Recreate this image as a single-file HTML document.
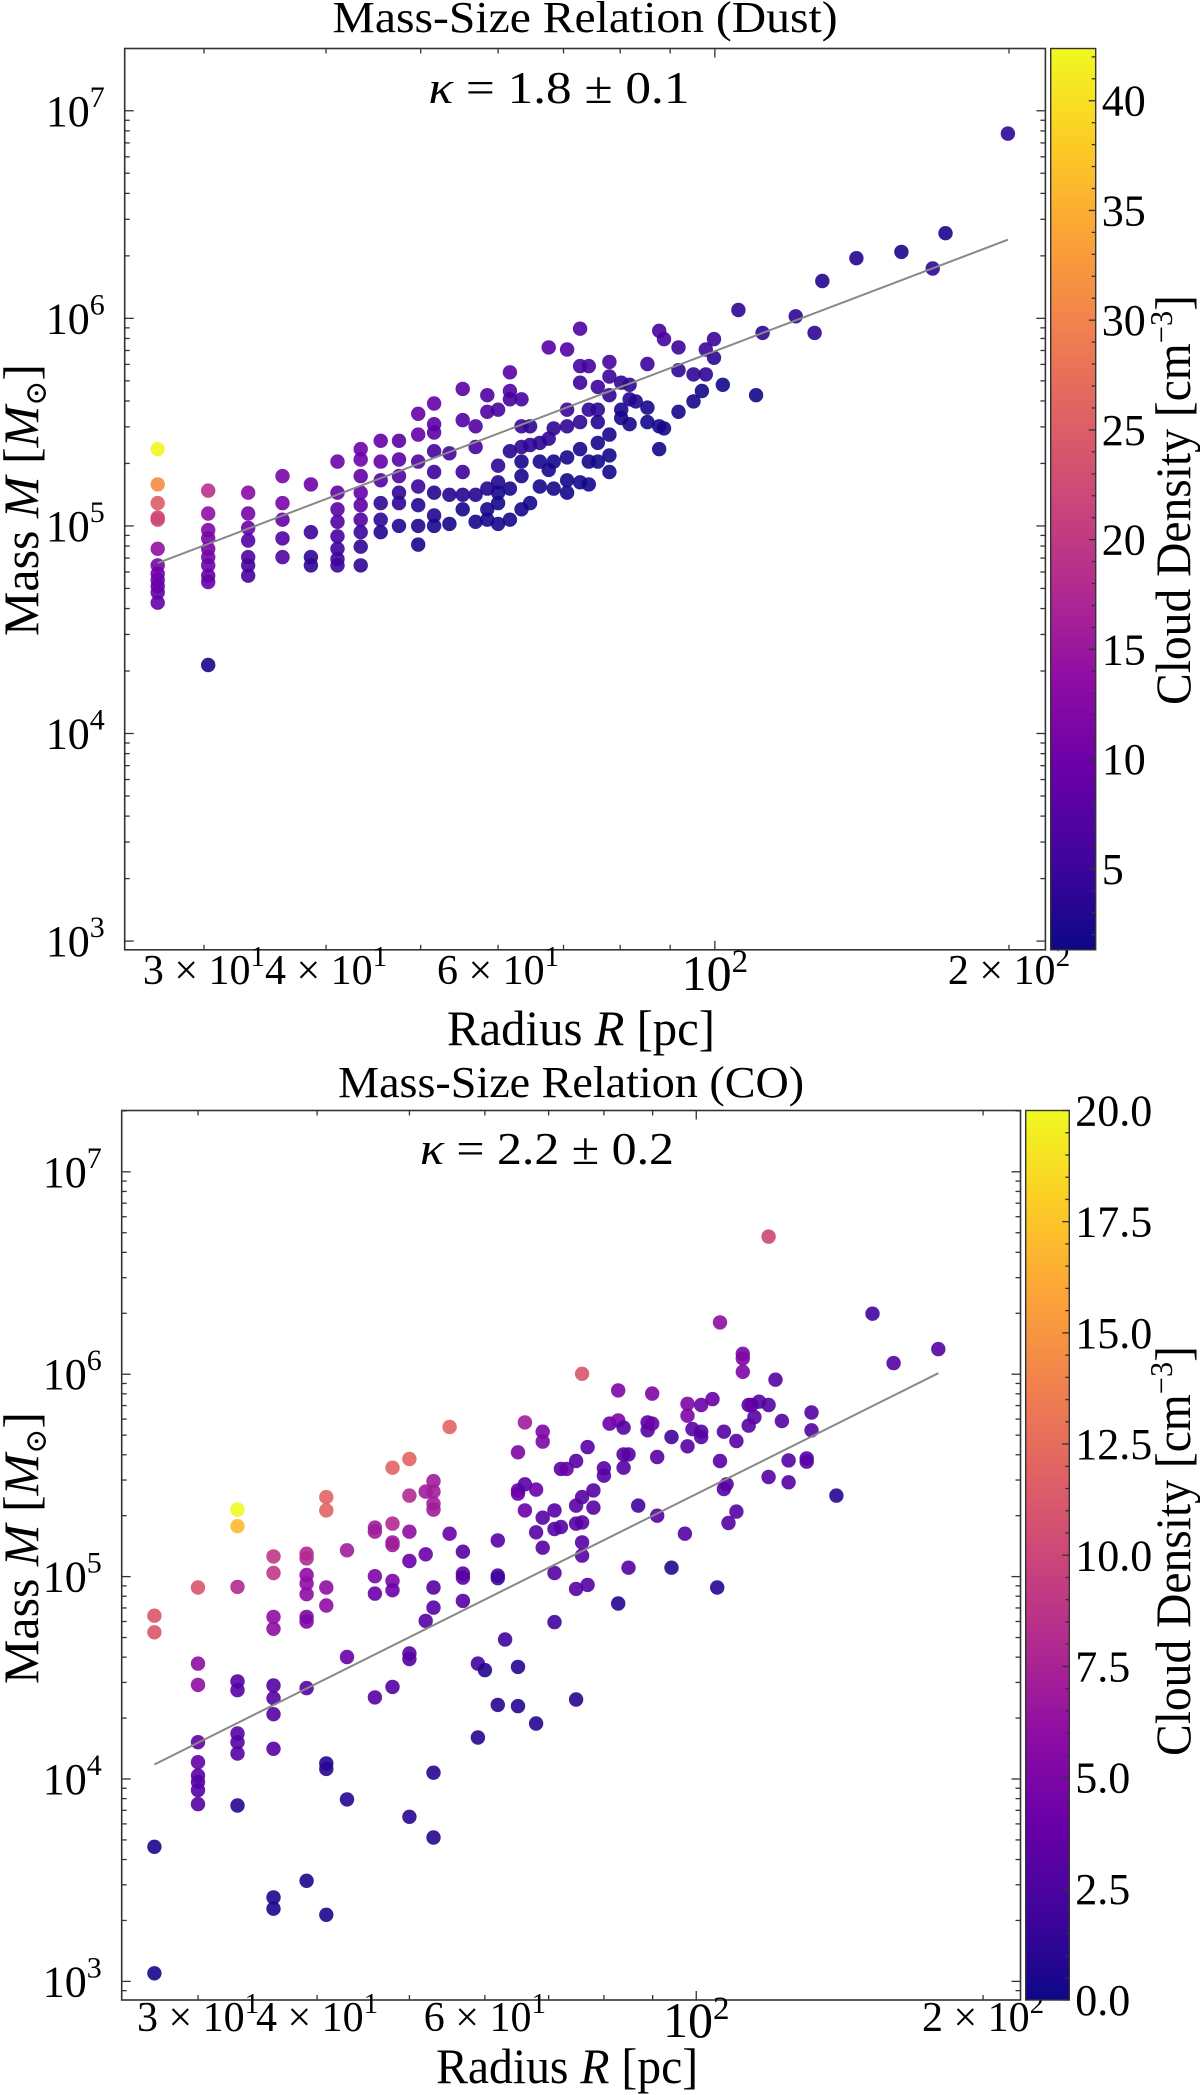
<!DOCTYPE html>
<html><head><meta charset="utf-8"><title>Mass-Size Relation</title>
<style>
html,body{margin:0;padding:0;background:#fff;}
svg{display:block;font-family:"Liberation Serif","DejaVu Serif",serif;}
</style></head>
<body>
<svg id="fig" width="1200" height="2095" viewBox="0 0 1200 2095" xmlns="http://www.w3.org/2000/svg">
<defs>
<linearGradient id="plasma" x1="0" y1="1" x2="0" y2="0">
<stop offset="0" stop-color="#0d0887"/><stop offset="0.1" stop-color="#41049d"/><stop offset="0.2" stop-color="#6a00a8"/><stop offset="0.3" stop-color="#8f0da4"/><stop offset="0.4" stop-color="#b12a90"/><stop offset="0.5" stop-color="#cc4778"/><stop offset="0.6" stop-color="#e16462"/><stop offset="0.7" stop-color="#f2844b"/><stop offset="0.8" stop-color="#fca636"/><stop offset="0.9" stop-color="#fcce25"/><stop offset="1" stop-color="#f0f921"/>
</linearGradient>
</defs>
</svg>
<script>
// ===== Dust panel data (radius pc, log10 mass Msun, density cm^-3) =====
const dustRadius = [
26.9,26.9,26.9,26.9,26.9,26.9,26.9,26.9,26.9,26.9,26.9,26.9,
30.3,30.3,30.3,30.3,30.3,30.3,30.3,30.3,30.3,30.3,
33.3,33.3,33.3,33.3,33.3,33.3,33.3,
36.1,36.1,36.1,36.1,36.1,
38.6,38.6,38.6,38.6,
41.1,41.1,41.1,41.1,41.1,41.1,41.1,41.1,
43.4,43.4,43.4,43.4,43.4,43.4,43.4,43.4,43.4,
45.5,45.5,45.5,45.5,45.5,45.5,
47.5,47.5,47.5,47.5,47.5,47.5,
49.7,49.7,49.7,49.7,49.7,49.7,49.7,
51.6,51.6,51.6,51.6,51.6,51.6,51.6,51.6,
53.5,53.5,53.5,
55.2,55.2,55.2,55.2,55.2,
56.9,56.9,56.9,56.9,
58.5,58.5,58.5,58.5,58.5,
60.0,60.0,60.0,60.0,60.0,60.0,
61.7,61.7,61.7,61.7,61.7,61.7,
63.4,63.4,63.4,63.4,63.4,63.4,
64.7,64.7,64.7,
66.2,66.2,66.2,
67.6,67.6,67.6,
68.4,68.4,68.4,
70.6,70.6,70.6,70.6,70.6,70.6,
72.8,72.8,72.8,72.8,72.8,72.8,
74.3,74.3,74.3,74.3,
75.9,75.9,75.9,75.9,75.9,
78.0,78.0,78.0,78.0,78.0,78.0,
80.2,80.2,80.2,
81.8,81.8,81.8,
83.0,
85.3,85.3,85.3,
87.7,87.7,87.7,
88.7,88.7,
91.8,91.8,91.8,
95.1,95.1,
97.0,
97.9,97.9,
99.8,99.8,
101.9,105.7,110.2,111.9,121,126.5,128.8,139.6,155.2,167.1,172.2,199.5];
const dustLogMass = [
5.37,5.20,5.11,5.04,5.03,4.89,4.81,4.77,4.74,4.71,4.68,4.63,
5.17,5.06,4.98,4.94,4.89,4.85,4.81,4.76,4.73,4.33,
5.16,5.06,4.99,4.93,4.85,4.81,4.76,
5.24,5.11,5.03,4.94,4.85,
5.20,4.97,4.85,4.81,
5.31,5.16,5.08,5.02,4.95,4.89,4.84,4.81,
5.37,5.32,5.24,5.16,5.10,5.03,4.97,4.90,4.81,
5.41,5.31,5.22,5.11,5.03,4.97,
5.41,5.32,5.24,5.16,5.11,5.00,
5.54,5.44,5.31,5.19,5.10,5.00,4.91,
5.59,5.49,5.45,5.36,5.26,5.16,5.05,5.00,
5.35,5.15,5.01,
5.66,5.51,5.26,5.15,5.08,
5.48,5.38,5.15,5.02,
5.63,5.55,5.18,5.08,5.03,
5.56,5.29,5.21,5.16,5.11,5.01,
5.74,5.65,5.61,5.36,5.18,5.03,
5.61,5.48,5.38,5.31,5.24,5.08,
5.48,5.39,5.11,
5.40,5.31,5.19,
5.86,5.42,5.27,
5.47,5.31,5.18,
5.85,5.56,5.48,5.33,5.22,5.16,
5.95,5.77,5.69,5.50,5.37,5.21,
5.77,5.56,5.31,5.20,
5.67,5.56,5.50,5.40,5.31,
5.79,5.72,5.63,5.44,5.34,5.26,
5.69,5.56,5.52,
5.68,5.61,5.49,
5.60,
5.78,5.57,5.50,
5.94,5.48,5.37,
5.90,5.47,
5.86,5.75,5.55,
5.73,5.60,
5.65,
5.85,5.73,
5.90,5.81,
5.68,6.04,5.63,5.93,6.01,5.93,6.18,6.29,6.32,6.24,6.41,6.89];
const dustDensity = [
42,31,25,22,22,14,11,10,10,9,9,9,
19,14,12,11,11,11,10,9,9,2,
13,11,10,7,7,6,6,
11,11,9,7,7,
10,5,4,4,
10,9,8,7,6,5,5,5,
10,10,9,9,8,7,5,4,4,
9,9,7,4,4,3,
8,8,7,4,4,3,
9,9,7,5,3,3,2,
9,8,8,6,5,3,3,2,
6,3,2,
8,7,5,3,2,
7,6,3,2,
7,7,3,2,2,
6,4,3,2,2,2,
8,7,6,3,2,2,
6,5,4,2,2,2,
4,4,2,
4,2,2,
8,4,2,
4,2,2,
7,5,4,2,1.8,1.8,
7,6,5,4,2,1.8,
6,4,2,1.8,
5,4,3,2,1.8,
6,5,4,2,1.8,1.8,
4,2,2,
4,3,2,
3,
5,2,1.8,
6,2,1.8,
6,2,
5,4,2,
4,2,
1.8,
5,4,
5,4,
1.8,4,1.8,4,4,4,3,3,2.5,4,2.5,4];
const dustFit = [2.262, 1.79];          // intercept, slope (log-log)
const dustFitRange = [26.9, 199.5];
const dustKappa = "1.8 \u00b1 0.1";

// ===== CO panel data =====
const coRadius = [
27.0,27.0,27.0,27.0,
30.0,30.0,30.0,30.0,30.0,30.0,30.0,30.0,30.0,
33.0,33.0,33.0,33.0,33.0,33.0,33.0,33.0,33.0,
36.0,36.0,36.0,36.0,36.0,36.0,36.0,36.0,36.0,36.0,
39.0,39.0,39.0,39.0,39.0,39.0,39.0,39.0,39.0,
40.9,40.9,40.9,40.9,40.9,40.9,40.9,
43.0,43.0,43.0,
46.0,46.0,46.0,46.0,46.0,
48.0,48.0,48.0,48.0,48.0,48.0,48.0,
50.0,50.0,50.0,50.0,50.0,50.0,50.0,
52.0,52.0,52.0,
53.0,53.0,53.0,53.0,53.0,53.0,53.0,53.0,
55.1,55.1,
56.9,56.9,56.9,56.9,
59.0,59.0,
60.0,
61.9,61.9,61.9,61.9,
63.0,
65.0,65.0,65.0,65.0,65.0,
66.1,66.1,66.1,
67.9,67.9,67.9,
69.0,69.0,69.0,69.0,
71.0,71.0,71.0,71.0,
72.1,72.1,
73.1,
74.8,74.8,74.8,74.8,74.8,
75.9,75.9,75.9,75.9,75.9,
76.9,76.9,
78.0,78.0,
80.0,80.0,
81.1,
82.8,82.8,82.8,
83.9,83.9,83.9,
84.9,84.9,
86.9,
88.9,88.9,
89.9,89.9,
91.0,91.0,
94.2,94.2,
97.3,
97.9,97.9,97.9,
99.1,
101.2,101.2,101.2,
104.0,105.2,
105.9,105.9,
106.9,106.9,
107.6,108.1,
110.2,110.2,
111.9,111.9,111.9,
113.5,113.5,
114.3,115.1,116.4,
119.1,119.1,119.1,
121.1,123.0,
125.0,125.0,
130.6,130.6,
132.1,132.1,
140.3,153.1,161.1,179.5];
const coLogMass = [
4.807,4.725,3.665,3.040,
4.946,4.570,4.465,4.182,4.083,4.017,3.985,3.945,3.876,
5.331,5.249,4.949,4.482,4.439,4.225,4.182,4.126,3.869,
5.100,5.018,4.801,4.742,4.462,4.399,4.320,4.149,3.415,3.359,
5.113,5.090,5.008,4.966,4.913,4.801,4.778,4.449,3.497,
5.393,5.327,4.946,4.857,4.077,4.050,3.329,
5.130,4.603,3.899,
5.242,5.222,5.002,4.916,4.403,
5.538,5.262,5.169,5.156,4.979,4.933,4.455,
5.581,5.400,5.222,5.077,4.620,4.593,3.813,
5.420,5.110,4.781,
5.472,5.420,5.360,5.331,4.946,4.847,4.031,3.711,
5.739,5.212,
5.123,5.015,4.995,4.880,
4.570,4.205,
4.538,
5.179,5.005,4.992,4.366,
4.689,
5.614,5.426,5.410,4.554,4.360,
5.762,5.456,5.327,
5.430,5.219,4.274,
5.716,5.667,5.291,5.143,
5.327,5.235,5.018,4.775,
5.532,5.245,
5.532,
5.571,5.351,5.262,4.939,4.393,
6.002,5.393,5.268,5.169,5.104,
5.640,4.959,
5.426,5.341,
5.535,5.499,
5.756,
5.920,5.772,4.867,
5.604,5.538,5.736,
5.604,5.044,
5.351,
5.723,5.762,
5.756,5.904,
5.591,5.301,
5.690,5.044,
5.212,
5.795,5.854,5.644,
5.729,
5.848,5.716,5.690,
5.877,4.946,
6.256,5.571,
5.716,5.433,
5.456,5.265,
5.670,5.321,
6.101,6.078,6.012,
5.746,5.848,
5.848,5.788,5.864,
6.680,5.848,5.492,
5.973,5.769,
5.574,5.466,
5.584,5.568,
5.811,5.723,
5.400,6.299,6.055,6.124];
const coDensity = [
11,11,0.5,0.3,
11,6,6,3.5,3.5,3,3,3,3,
20,17,8,3,3,3,3,3,1,
9,9,6,6,3,3,3,3,0.5,0.5,
8,8,6,6,6,5,5,3,0.5,
12,12,6,6,1,1,0.5,
7,4,1,
7,7,5,4,3,
12,8,7,7,5,4,3,
12,8,6,4,3,3,1,
7,4,3,
7,7,7,7,3,3,1,1,
12,4,
3,3,3,3,
2,1,
1,
3,2,2,1,
2,
5,4,4,1,1,
7,3,4,
4,3,1,
5,5,3,3,
3,3,3,2,
3,3,
4,
3,3,3,3,1,
11,3,3,3,3,
3,3,
3,3,
3,3,
4,
5,5,1,
3,3,3,
3,3,
2,
3,3,
4,5,
3,3,
2,1,
3,
5,5,3,
3,
4,3,3,
4,1,
6,3,
3,3,
3,3,
3,3,
5,5,5,
3,3,
4,3,3,
10,3,3,
3,3,
3,3,
3,3,
3,3,
1,2,3,3];
const coFit = [0.708, 2.35];
const coFitRange = [27.0, 179.5];
const coKappa = "2.2 \u00b1 0.2";

const yTickExps = [3,4,5,6,7];
const xTickValues = [30,40,60,100,200];
const xTickMant = ["3","4","6","",  "2"];
const xTickExp  = ["1","1","1","2","2"];
const dustCbarTicks = [5,10,15,20,25,30,35,40];
const coCbarTicks = [0,2.5,5,7.5,10,12.5,15,17.5,20];

const NS = "http://www.w3.org/2000/svg";
const svg = document.getElementById('fig');
const PL = [[13,8,135],[65,4,157],[106,0,168],[143,13,164],[177,42,144],[204,71,120],[225,100,98],[242,132,75],[252,166,54],[252,206,37],[240,249,33]];
function plasma(t){ t=Math.max(0,Math.min(1,t)); const f=t*10, i=Math.min(9,Math.floor(f)), u=f-i;
  const a=PL[i], b=PL[i+1]; return 'rgb('+[0,1,2].map(k=>Math.round(a[k]+(b[k]-a[k])*u)).join(',')+')'; }
function mk(tag, attrs, parent){ const e=document.createElementNS(NS,tag); for(const k in attrs) e.setAttribute(k,attrs[k]); (parent||svg).appendChild(e); return e; }

function panel(g){
  const grp = mk('g',{});
  
  
  const X = lr => g.L + (lr - g.xd[0])/(g.xd[1]-g.xd[0])*(g.R-g.L);
  const Y = lm => g.B - (lm - g.yd[0])/(g.yd[1]-g.yd[0])*(g.B-g.T);
  const C = d => g.cB - (d - g.cd[0])/(g.cd[1]-g.cd[0])*(g.cB-g.T);
  const t = mk('text',{x:(g.L+g.R)/2, y:g.titleY, 'text-anchor':'middle','font-size':44, textLength:g.titleW, lengthAdjust:'spacingAndGlyphs'}, grp);
  t.textContent = g.title;
  
  
  const pts = mk('g',{}, grp);
  
  
  for(let i=0;i<g.r.length;i++){
    const c = mk('circle',{cx:X(Math.log10(g.r[i])).toFixed(1), cy:Y(g.m[i]).toFixed(1), r:7.2, fill:plasma((g.d[i]-g.cd[0])/(g.cd[1]-g.cd[0])), 'fill-opacity':0.9}, pts);
    
    
  }
  const l0=Math.log10(g.fr[0]), l1=Math.log10(g.fr[1]);
  const fl = mk('line',{x1:X(l0),y1:Y(g.fit[0]+g.fit[1]*l0),x2:X(l1),y2:Y(g.fit[0]+g.fit[1]*l1),stroke:'#888',"stroke-width":2}, grp);
  
  
  const k = mk('text',{x:g.kX, y:g.kY, 'text-anchor':'middle','font-size':46, textLength:g.kW, lengthAdjust:'spacingAndGlyphs'}, grp);
  k.innerHTML = '<tspan font-style="italic">\u03ba</tspan> = '+g.kappa;
  
  
  const fr = mk('rect',{x:g.L,y:g.T,width:g.R-g.L,height:g.B-g.T,fill:'none',stroke:'#333','stroke-width':1.6}, grp);
  
  
  for(let e=2;e<=7;e++){
    for(let m=1;m<=9;m++){
      const lm=e+Math.log10(m); if(lm<g.yd[0]||lm>g.yd[1]) continue;
      const y=Y(lm), len = m===1?9:5;
      mk('line',{x1:g.L,y1:y,x2:g.L+len,y2:y,stroke:'#333','stroke-width':1.3},grp);
      mk('line',{x1:g.R,y1:y,x2:g.R-len,y2:y,stroke:'#333','stroke-width':1.3},grp);
    }
  }
  yTickExps.forEach(e=>{
    const tx = mk('text',{x:g.L-20,y:Y(e)+15,'text-anchor':'end','font-size':44}, grp);
    tx.innerHTML = '10<tspan font-size="30" dy="-19">'+e+'</tspan>';
    
    
  });
  [30,40,50,60,70,80,90,100,200].forEach(v=>{
    const x=X(Math.log10(v)), len = v===100?9:5;
    mk('line',{x1:x,y1:g.B,x2:x,y2:g.B-len,stroke:'#333','stroke-width':1.3},grp);
    mk('line',{x1:x,y1:g.T,x2:x,y2:g.T+len,stroke:'#333','stroke-width':1.3},grp);
  });
  xTickValues.forEach((v,i)=>{
    const big = !xTickMant[i];
    const tx = mk('text',{x:X(Math.log10(v)),y:g.xtY+(big?6:0),'text-anchor':'middle','font-size':big?50:42}, grp);
    tx.innerHTML = (xTickMant[i]? xTickMant[i]+' \u00d7 ':'')+'10<tspan font-size="'+(big?33:29)+'" dy="-18">'+xTickExp[i]+'</tspan>';
    
    
  });
  const xl = mk('text',{x:(g.L+g.R)/2-4,y:g.xlY,'text-anchor':'middle','font-size':50, textLength:g.xlW, lengthAdjust:'spacingAndGlyphs'}, grp);
  xl.innerHTML = 'Radius <tspan font-style="italic">R</tspan> [pc]';
  
  
  const yl = mk('text',{x:0,y:0,transform:'translate(38,'+g.ylC+') rotate(-90)','text-anchor':'middle','font-size':50, textLength:272, lengthAdjust:'spacingAndGlyphs'}, grp);
  yl.innerHTML = 'Mass <tspan font-style="italic">M</tspan> [<tspan font-style="italic">M</tspan><tspan font-size="30" dy="8">\u2299</tspan><tspan dy="-8">]</tspan>';
  
  
  const cb = mk('rect',{x:g.cL,y:g.T,width:g.cR-g.cL,height:g.cB-g.T,fill:'url(#plasma)',stroke:'#333','stroke-width':1.4}, grp);
  
  
  for(let v=Math.ceil(g.cd[0]/g.minor)*g.minor; v<=g.cd[1]+1e-9; v+=g.minor){
    const y=C(v), major = Math.abs(v/g.major-Math.round(v/g.major))<1e-6;
    mk('line',{x1:g.cR,y1:y,x2:g.cR-(major?7:4),y2:y,stroke:'#333','stroke-width':1.3},grp);
  }
  g.cticks.forEach(v=>{
    const tx = mk('text',{x:g.cR+6,y:C(v)+15,'font-size':44}, grp);
    tx.textContent = g.cfmt(v);
    
    
  });
  const cl = mk('text',{x:0,y:0,transform:'translate(1190,'+g.clC+') rotate(-90)','text-anchor':'middle','font-size':50, textLength:410, lengthAdjust:'spacingAndGlyphs'}, grp);
  cl.innerHTML = 'Cloud Density [cm<tspan font-size="32" dy="-18">\u22123</tspan><tspan dy="18">]</tspan>';
  
  
}

panel({name:'dust-panel', title:'Mass-Size Relation (Dust)', titleY:32, titleW:505,
  L:124.7, R:1045.4, T:48.5, B:949.8, xd:[1.396,2.3383], yd:[2.958,7.300],
  r:dustRadius, m:dustLogMass, d:dustDensity, fit:dustFit, fr:dustFitRange,
  kappa:dustKappa, kX:559, kY:103, kW:261, xtY:984, xlY:1045, xlW:268, ylC:500,
  cL:1050.7, cR:1095.7, cB:949.8, cd:[1.31,42.38], cticks:dustCbarTicks, minor:1, major:5, cfmt:v=>String(v), clC:500});
panel({name:'co-panel', title:'Mass-Size Relation (CO)', titleY:1097, titleW:466,
  L:121.7, R:1020.5, T:1110.5, B:2000, xd:[1.397,2.3403], yd:[2.908,7.303],
  r:coRadius, m:coLogMass, d:coDensity, fit:coFit, fr:coFitRange,
  kappa:coKappa, kX:547, kY:1164, kW:254, xtY:2031, xlY:2083, xlW:262, ylC:1548,
  cL:1025.7, cR:1069.3, cB:2000, cd:[0,20], cticks:coCbarTicks, minor:0.5, major:2.5, cfmt:v=>v.toFixed(1), clC:1551});
</script>
</body></html>
